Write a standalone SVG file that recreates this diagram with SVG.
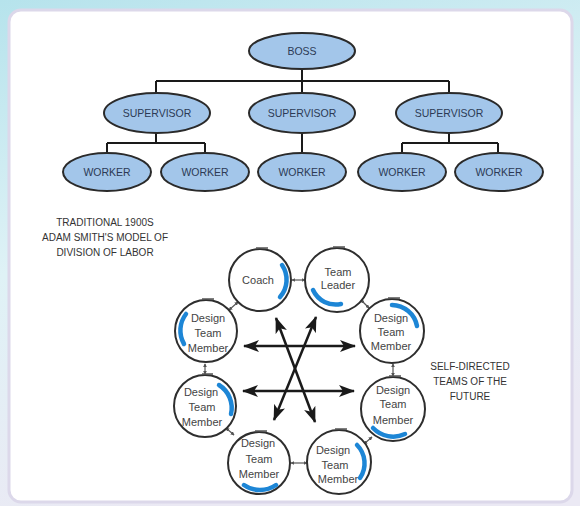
<svg xmlns="http://www.w3.org/2000/svg" width="580" height="506" viewBox="0 0 580 506">
<defs>
<linearGradient id="bg" x1="0" y1="0" x2="0.3" y2="1">
<stop offset="0" stop-color="#b6e3ec"/>
<stop offset="0.5" stop-color="#dff2f6"/>
<stop offset="1" stop-color="#ebe9f4"/>
</linearGradient>
<marker id="ah" viewBox="0 0 16 12" refX="15" refY="6" markerWidth="16" markerHeight="12" markerUnits="userSpaceOnUse" orient="auto-start-reverse">
<path d="M0,0 L16,6 L0,12 L4,6 Z" fill="#1a1a1a"/>
</marker>
<marker id="sm" viewBox="0 0 6 6" refX="5" refY="3" markerWidth="4" markerHeight="4" markerUnits="userSpaceOnUse" orient="auto-start-reverse">
<path d="M0,0 L6,3 L0,6 Z" fill="#555"/>
</marker>
</defs>
<style>
.oval{fill:#a3c6ea;stroke:#2a2a2a;stroke-width:2}
.olab{font-family:"Liberation Sans",Arial,sans-serif;font-size:10.5px;fill:#2c3a55;text-anchor:middle}
.cap{font-family:"Liberation Sans",Arial,sans-serif;font-size:10px;fill:#333;text-anchor:middle}
.tree{fill:none;stroke:#1a1a1a;stroke-width:2}
.circ{fill:#fff;stroke:#2e2e2e;stroke-width:2}
.tab{fill:none;stroke:#555;stroke-width:1.5}
.blue{fill:none;stroke:#1d86d6;stroke-width:4.5;stroke-linecap:round}
.clab{font-family:"Liberation Sans",Arial,sans-serif;font-size:11px;fill:#444;text-anchor:middle}
.arr{fill:none;stroke:#1a1a1a;stroke-width:2.5;marker-start:url(#ah);marker-end:url(#ah)}
.link{fill:none;stroke:#555;stroke-width:1.2;marker-start:url(#sm);marker-end:url(#sm)}
</style>
<rect x="0" y="0" width="580" height="506" fill="url(#bg)"/>
<rect x="9" y="10" width="563" height="492" rx="12" fill="#ffffff" stroke="#dcd8ea" stroke-width="3"/>

<g id="connectors">
<path class="tree" d="M302,69 V93 M156,81 H449 M156,81 V93 M449,81 V93"/>
<path class="tree" d="M156,133 V143 M107,143 H205 M107,143 V153 M205,143 V153"/>
<path class="tree" d="M302,133 V153"/>
<path class="tree" d="M449,133 V143 M402,143 H498 M402,143 V153 M498,143 V153"/>
<line class="arr" x1="244" y1="346" x2="355" y2="346"/>
<line class="arr" x1="243" y1="391" x2="354" y2="391"/>
<line class="arr" x1="276" y1="318" x2="315" y2="422"/>
<line class="arr" x1="316" y1="317" x2="274" y2="420"/>
<line class="link" x1="292" y1="280" x2="305" y2="280"/>
<line class="link" x1="238" y1="302" x2="229" y2="310"/>
<line class="link" x1="361" y1="300" x2="369" y2="308"/>
<line class="link" x1="205" y1="364" x2="205" y2="374"/>
<line class="link" x1="393" y1="364" x2="393" y2="376"/>
<line class="link" x1="226" y1="428" x2="234" y2="435"/>
<line class="link" x1="372" y1="437" x2="364" y2="444"/>
<line class="link" x1="291" y1="463" x2="307" y2="463"/>
</g>

<g id="boss"><ellipse class="oval" cx="302" cy="51" rx="53" ry="18"/><text class="olab" x="302" y="55">BOSS</text></g>
<g id="sup1"><ellipse class="oval" cx="157" cy="113" rx="53" ry="20"/><text class="olab" x="157" y="117">SUPERVISOR</text></g>
<g id="sup2"><ellipse class="oval" cx="302" cy="113" rx="53" ry="20"/><text class="olab" x="302" y="117">SUPERVISOR</text></g>
<g id="sup3"><ellipse class="oval" cx="449" cy="113" rx="53" ry="20"/><text class="olab" x="449" y="117">SUPERVISOR</text></g>
<g id="w1"><ellipse class="oval" cx="107" cy="172" rx="44" ry="19"/><text class="olab" x="107" y="176">WORKER</text></g>
<g id="w2"><ellipse class="oval" cx="205" cy="172" rx="44" ry="19"/><text class="olab" x="205" y="176">WORKER</text></g>
<g id="w3"><ellipse class="oval" cx="302" cy="172" rx="44" ry="19"/><text class="olab" x="302" y="176">WORKER</text></g>
<g id="w4"><ellipse class="oval" cx="402" cy="172" rx="44" ry="19"/><text class="olab" x="402" y="176">WORKER</text></g>
<g id="w5"><ellipse class="oval" cx="499" cy="172" rx="44" ry="19"/><text class="olab" x="499" y="176">WORKER</text></g>

<g id="caption-traditional">
<text class="cap" x="105" y="226">TRADITIONAL 1900S</text>
<text class="cap" x="105" y="241">ADAM SMITH'S MODEL OF</text>
<text class="cap" x="105" y="256">DIVISION OF LABOR</text>
</g>
<g id="caption-self">
<text class="cap" x="470" y="370">SELF-DIRECTED</text>
<text class="cap" x="470" y="385">TEAMS OF THE</text>
<text class="cap" x="470" y="400">FUTURE</text>
</g>

<g id="coach"><circle class="circ" cx="260" cy="280" r="31"/><path class="tab" d="M256,248 H268"/><path class="blue" d="M282,265 A26,26 0 0 1 280,297"/><text class="clab" x="258" y="284">Coach</text></g>
<g id="team-leader"><circle class="circ" cx="337" cy="280" r="32"/><path class="tab" d="M333,247 H345"/><path class="blue" d="M313,290 A25,25 0 0 0 341,304"/><text class="clab" x="338" y="276">Team</text><text class="clab" x="338" y="289">Leader</text></g>
<g id="dtm-ul"><circle class="circ" cx="206" cy="331" r="31"/><path class="tab" d="M202,299 H214"/><path class="blue" d="M186,314 A27,27 0 0 0 184,344"/><text class="clab" x="208" y="322">Design</text><text class="clab" x="208" y="337">Team</text><text class="clab" x="208" y="352">Member</text></g>
<g id="dtm-ur"><circle class="circ" cx="392" cy="331" r="32"/><path class="tab" d="M388,298 H400"/><path class="blue" d="M392,305 A26,26 0 0 1 417,326"/><text class="clab" x="391" y="322">Design</text><text class="clab" x="391" y="336">Team</text><text class="clab" x="391" y="350">Member</text></g>
<g id="dtm-ll"><circle class="circ" cx="205" cy="406" r="31"/><path class="tab" d="M202,374 H213"/><path class="blue" d="M219,385 A27,27 0 0 1 231,414"/><text class="clab" x="201" y="396">Design</text><text class="clab" x="202" y="411">Team</text><text class="clab" x="202" y="426">Member</text></g>
<g id="dtm-lr"><circle class="circ" cx="393" cy="409" r="32"/><path class="tab" d="M389,376 H401"/><path class="blue" d="M373,428 A28,28 0 0 0 405,434"/><text class="clab" x="393" y="394">Design</text><text class="clab" x="393" y="408">Team</text><text class="clab" x="393" y="424">Member</text></g>
<g id="dtm-bl"><circle class="circ" cx="259" cy="463" r="31"/><path class="tab" d="M255,431 H267"/><path class="blue" d="M244,485 A28,28 0 0 0 276,485"/><text class="clab" x="258" y="447">Design</text><text class="clab" x="259" y="463">Team</text><text class="clab" x="259" y="478">Member</text></g>
<g id="dtm-br"><circle class="circ" cx="339" cy="462" r="32"/><path class="tab" d="M335,429 H347"/><path class="blue" d="M357,445 A26,26 0 0 1 360,478"/><text class="clab" x="333" y="454">Design</text><text class="clab" x="335" y="469">Team</text><text class="clab" x="338" y="483">Member</text></g>
</svg>
